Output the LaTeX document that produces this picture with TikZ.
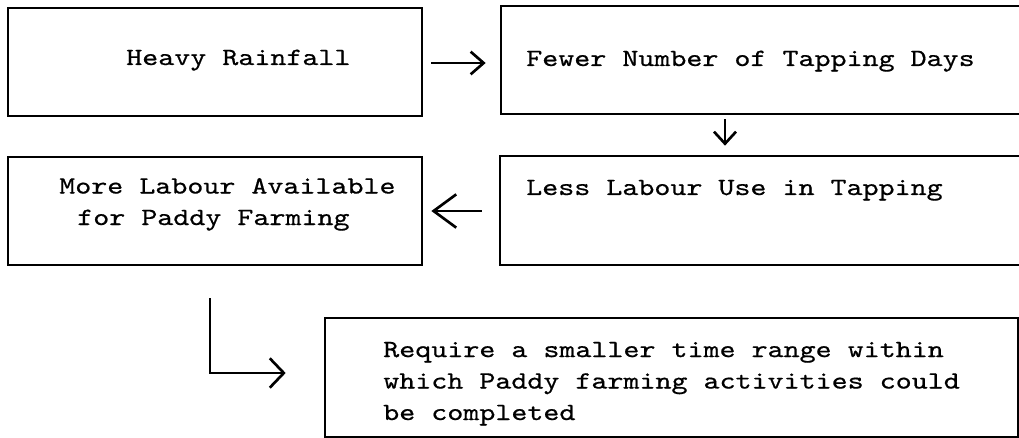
\documentclass[tikz,border=0pt]{standalone}
\usepackage{fontspec}
\newfontfamily\typer[FakeStretch=1.23,FakeBold=0.6]{lmmono10-regular.otf}
\usetikzlibrary{arrows.meta,fit}

\begin{document}
\begin{tikzpicture}[x=0.75pt,y=0.75pt,yscale=-1,xscale=1,
	box/.style={draw, line width=2pt, inner sep=0pt},
	txt/.style={inner sep=0pt, anchor=base west, align=left, font=\typer\fontsize{18.6}{23.6}\selectfont},
	arr/.style={line width=2pt}]
	\useasboundingbox (0,0) rectangle (1019,438);
	% the five boxes
	\node [box, fit={(8,8) (422,116)}] (rain) {};
	\node [box, fit={(501,6) (1025,114)}] (days) {};
	\node [box, fit={(500,156) (1025,265)}] (labour) {};
	\node [box, fit={(8,157) (422,265)}] (more) {};
	\node [box, fit={(325,318) (1018,437)}] (req) {};
	% texts (base = last line)
	\node [txt] (rainT) at (126,65) {Heavy Rainfall};
	\node [txt] (daysT) at (526,66) {Fewer Number of Tapping Days};
	\node [txt] (labourT) at (526,195) {Less Labour Use in Tapping};
	\node [txt] (moreT) at (59,225) {More Labour Available\\\hspace*{13.5pt}for Paddy Farming};
	\node [txt] (reqT) at (383,420) {Require a smaller time range within\\which Paddy farming activities could\\be completed};
	% arrows
	\draw [arr, -{Straight Barb[length=9.75pt,width=17pt]}] ([shift={(8,1)}]rain.east) -- ([shift={(-14,3)}]days.west);
	\draw [arr, -{Straight Barb[length=9pt,width=16.5pt]}] ([shift={(-38,4)}]days.south) -- ([shift={(-37.5,-9)}]labour.north);
	\draw [arr, -{Straight Barb[length=17pt,width=25pt]}] ([shift={(-17,0.5)}]labour.west) -- ([shift={(8,0)}]more.east);
	\draw [arr, -{Straight Barb[length=10.5pt,width=22pt]}] ([shift={(-5,32)}]more.south) |- ([shift={(-38,-4.5)}]req.west);
\end{tikzpicture}
\end{document}
